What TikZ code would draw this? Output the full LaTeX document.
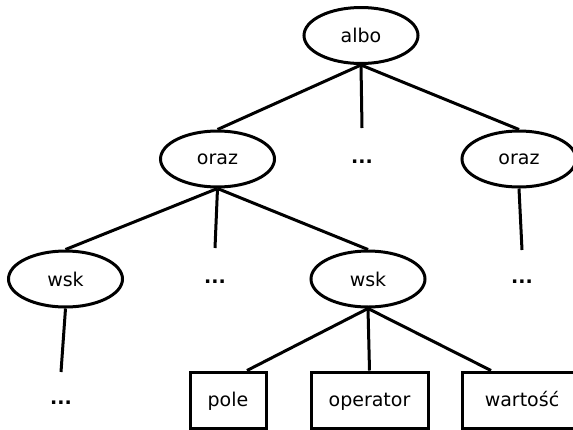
\documentclass[tikz,border=0pt]{standalone}
\usepackage{fontspec}
\setmainfont{DejaVu Sans}
\usetikzlibrary{shapes.geometric}
\begin{document}
\begin{tikzpicture}[x=1pt,y=-1pt,
  every node/.style={font=\fontsize{19}{22}\selectfont},
  ell/.style={draw,ellipse,line width=3pt,minimum width=114pt,minimum height=56pt,inner sep=0pt},
  box/.style={draw,rectangle,line width=3pt,minimum height=56pt,inner sep=0pt,text height=12pt,text depth=0pt},
  dots/.style={font=\fontsize{19}{22}\selectfont\bfseries},
  edge/.style={line width=3pt}]
\useasboundingbox (0,0) rectangle (573,429);
\clip (0,0) rectangle (573,429);
\node[ell] (albo) at (361,35.5) {albo};
\node[ell] (oraz1) at (217.5,159) {oraz};
\node[dots] (d0) at (362,162) {...};
\node[ell] (oraz2) at (519,159) {oraz};
\node[ell] (wsk1) at (65.5,279) {wsk};
\node[dots] (d1) at (215,282) {...};
\node[dots] (d2) at (522,282) {...};
\node[ell] (wsk2) at (368,279) {wsk};
\node[dots] (d3) at (61,403) {...};
\node[box,minimum width=76pt] (pole) at (228,400) {pole};
\node[box,minimum width=117pt] (operator) at (369.5,400) {operator};
\node[box,minimum width=120pt] (wartosc) at (522,400) {wartość};
\draw[edge] (albo.south) -- (oraz1.north);
\draw[edge] (albo.south) -- ([yshift=34pt]d0.center);
\draw[edge] (albo.south) -- (oraz2.north);
\draw[edge] (oraz1.south) -- (wsk1.north);
\draw[edge] (oraz1.south) -- ([yshift=34pt]d1.center);
\draw[edge] (oraz1.south) -- (wsk2.north);
\draw[edge] (oraz2.south) -- ([yshift=32pt]d2.center);
\draw[edge] (wsk1.south) -- ([yshift=31pt]d3.center);
\draw[edge] (wsk2.south) -- ([xshift=19pt]pole.north);
\draw[edge] (wsk2.south) -- (operator.north);
\draw[edge] (wsk2.south) -- ([xshift=-31pt]wartosc.north);
\end{tikzpicture}
\end{document}
